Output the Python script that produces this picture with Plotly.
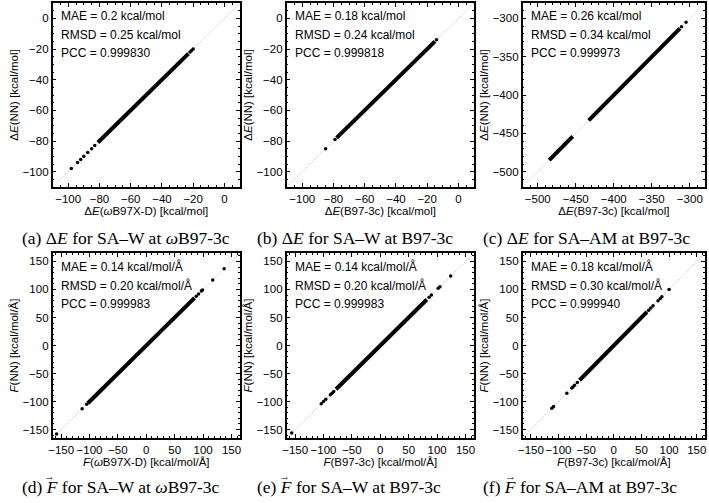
import plotly.graph_objects as go

# ---------------- data ----------------
RANGE_A = [-110, 10]
RANGE_B = [-110, 10]
RANGE_C = [-520, -280]
RANGE_F = [-165, 165]

# dense bands (start, end on the diagonal) and isolated points (x, y)
A_band = [-81, -23]
A_iso_x = [-98, -94, -92, -90, -87.5, -85, -83, -22, -21, -20]
A_iso_y = [-98, -94, -92, -90, -87.5, -85, -83, -22, -21, -20]

B_band = [-78, -15]
B_iso_x = [-85, -79, -14]
B_iso_y = [-85, -79, -14]

C_band1 = [-485, -454]
C_band2 = [-433, -313]
C_iso_x = [-311, -305]
C_iso_y = [-311, -305]

D_band = [-103, 85]
D_iso_x = [-158, -113, -105, 88, 92, 97, 99, 117, 137]
D_iso_y = [-158, -113, -105, 88, 92, 97, 99, 117, 137]

E_band = [-78, 82]
E_iso_x = [-156, -104, -100, -96, -88, -85, -82, 86, 90, 102, 105, 124]
E_iso_y = [-156, -104, -100, -96, -88, -85, -82, 86, 90, 102, 105, 124]

F_band = [-62, 60]
F_iso_x = [-112, -109, -85, -76, -74, -71, -66, 63, 67, 71, 80, 84, 87, 100]
F_iso_y = [-112, -109, -85, -76, -74, -71, -66, 63, 67, 71, 80, 84, 87, 100]

STATS = [
    ["MAE = 0.2 kcal/mol", "RMSD = 0.25 kcal/mol", "PCC = 0.999830"],
    ["MAE = 0.18 kcal/mol", "RMSD = 0.24 kcal/mol", "PCC = 0.999818"],
    ["MAE = 0.26 kcal/mol", "RMSD = 0.34 kcal/mol", "PCC = 0.999973"],
    ["MAE = 0.14 kcal/mol/Å", "RMSD = 0.20 kcal/mol/Å", "PCC = 0.999983"],
    ["MAE = 0.14 kcal/mol/Å", "RMSD = 0.20 kcal/mol/Å", "PCC = 0.999983"],
    ["MAE = 0.18 kcal/mol/Å", "RMSD = 0.30 kcal/mol/Å", "PCC = 0.999940"],
]
XTITLES = [
    "Δ<i>E</i>(<i>ω</i>B97X-D) [kcal/mol]",
    "Δ<i>E</i>(B97-3c) [kcal/mol]",
    "Δ<i>E</i>(B97-3c) [kcal/mol]",
    "<i>F</i>(<i>ω</i>B97X-D) [kcal/mol/Å]",
    "<i>F</i>(B97-3c) [kcal/mol/Å]",
    "<i>F</i>(B97-3c) [kcal/mol/Å]",
]
YTITLES = [
    "Δ<i>E</i>(NN) [kcal/mol]",
    "Δ<i>E</i>(NN) [kcal/mol]",
    "Δ<i>E</i>(NN) [kcal/mol]",
    "<i>F</i>(NN) [kcal/mol/Å]",
    "<i>F</i>(NN) [kcal/mol/Å]",
    "<i>F</i>(NN) [kcal/mol/Å]",
]
CAPTIONS = [
    "(a) Δ<i>E</i> for SA–W at <i>ω</i>B97-3c",
    "(b) Δ<i>E</i> for SA–W at B97-3c",
    "(c) Δ<i>E</i> for SA–AM at B97-3c",
    "(d) <i>F</i> for SA–W at <i>ω</i>B97-3c",
    "(e) <i>F</i> for SA–W at B97-3c",
    "(f) <i>F</i> for SA–AM at B97-3c",
]
HAS_ARROW = [False, False, False, True, True, True]

# ---------------- layout ----------------
W, H = 709, 503
XDOM_PX = [(48, 237), (284, 473), (522, 706)]
YDOM_PX = [(3, 187), (253, 438)]
CAP_X = [15, 252, 480]
CAP_Y = [238, 487]

def px_x(a, b):
    return [a / W, b / W]

def px_y(top, bot):
    return [1 - bot / H, 1 - top / H]

RANGES = [RANGE_A, RANGE_B, RANGE_C, RANGE_F, RANGE_F, RANGE_F]
DTICK = [20, 20, 50, 50, 50, 50]
MINOR = [5, 5, 10, 10, 10, 10]
BANDS = [[A_band], [B_band], [C_band1, C_band2], [D_band], [E_band], [F_band]]
ISO = [(A_iso_x, A_iso_y), (B_iso_x, B_iso_y), (C_iso_x, C_iso_y),
       (D_iso_x, D_iso_y), (E_iso_x, E_iso_y), (F_iso_x, F_iso_y)]

fig = go.Figure()
SANS = "Liberation Sans, Arial, sans-serif"
SERIF = "Liberation Serif, DejaVu Serif, serif"
annotations = []

for i in range(6):
    r, c = divmod(i, 3)
    xa = "x" if i == 0 else f"x{i+1}"
    ya = "y" if i == 0 else f"y{i+1}"
    rng = RANGES[i]
    fig.add_trace(go.Scatter(x=rng, y=rng, mode="lines", xaxis=xa, yaxis=ya,
                             line=dict(color="#a8a8a8", width=1, dash="1px,2px"),
                             showlegend=False, hoverinfo="skip"))
    for band in BANDS[i]:
        fig.add_trace(go.Scatter(x=band, y=band, mode="lines", xaxis=xa, yaxis=ya,
                                 line=dict(color="black", width=4),
                                 showlegend=False))
    ix, iy = ISO[i]
    fig.add_trace(go.Scatter(x=ix, y=iy, mode="markers", xaxis=xa, yaxis=ya,
                             marker=dict(color="black", size=3.5),
                             showlegend=False))
    xk = "xaxis" if i == 0 else f"xaxis{i+1}"
    yk = "yaxis" if i == 0 else f"yaxis{i+1}"
    axcommon = dict(range=rng, dtick=DTICK[i], tick0=0, ticks="inside", ticklen=4,
                    tickwidth=1, tickcolor="black", showline=True, linecolor="black",
                    linewidth=1.5, mirror="ticks", showgrid=False, zeroline=False,
                    tickangle=0,
                    tickfont=dict(family=SANS, size=11.5, color="black"),
                    minor=dict(ticks="inside", ticklen=2, dtick=MINOR[i],
                               tickcolor="black", showgrid=False))
    fig.layout[xk] = dict(axcommon, domain=px_x(*XDOM_PX[c]), anchor=ya,
                          title=dict(text=XTITLES[i], standoff=3,
                                     font=dict(family=SANS, size=11.5, color="black")))
    fig.layout[yk] = dict(axcommon, domain=px_y(*YDOM_PX[r]), anchor=xa,
                          title=dict(text=YTITLES[i], standoff=2,
                                     font=dict(family=SANS, size=11.5, color="black")))
    for k, t in enumerate(STATS[i]):
        annotations.append(dict(text=t, xref=f"{xa} domain", yref=f"{ya} domain",
                                x=0.035, y=1 - (13.5 + 18.5 * k) / 184, xanchor="left",
                                yanchor="middle", showarrow=False,
                                font=dict(family=SANS, size=12, color="black")))
    cx = CAP_X[c]
    cy = CAP_Y[r]
    annotations.append(dict(text=CAPTIONS[i], xref="paper", yref="paper",
                            x=cx / W, y=1 - cy / H, xanchor="left", yanchor="middle",
                            showarrow=False,
                            font=dict(family=SERIF, size=17.5, color="black")))
    if HAS_ARROW[i]:
        annotations.append(dict(text="→", xref="paper", yref="paper",
                                x=(cx + 30) / W, y=1 - (cy - 11) / H,
                                xanchor="center", yanchor="middle", showarrow=False,
                                font=dict(family=SERIF, size=11, color="black")))

fig.update_layout(width=W, height=H, margin=dict(l=0, r=0, t=0, b=0),
                  paper_bgcolor="white", plot_bgcolor="white",
                  annotations=annotations)
fig.write_html("out.html", config={"displayModeBar": False},
               post_script="document.body.style.margin='0px';document.body.style.padding='0px';")
